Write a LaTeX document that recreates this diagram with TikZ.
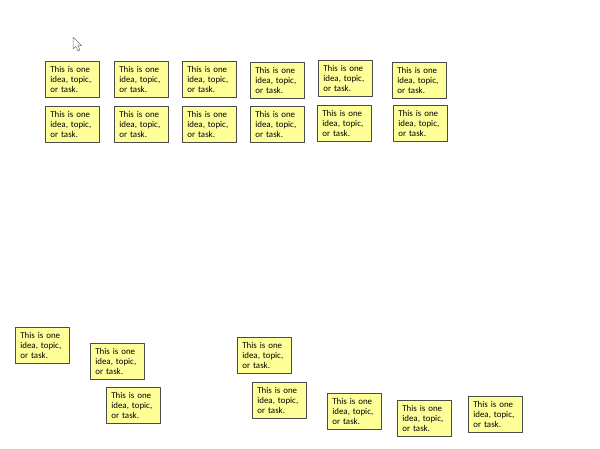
\documentclass[tikz,border=0pt]{standalone}
\usepackage{fontspec}
\setmainfont{Carlito}
\usetikzlibrary{shadows}
\definecolor{notefill}{HTML}{FFFF99}
\definecolor{noteline}{HTML}{4A4A4A}
\newcommand{\idea}{This is one\\idea, topic,\\or task.}
\begin{document}
\begin{tikzpicture}[x=1pt,y=-1pt,
  line cap=round,line join=round,
  every node/.style={font=\fontsize{8.9}{9.8}\selectfont},
  note/.style={draw=noteline,line width=.7pt,fill=notefill,anchor=north west,
    minimum width=54pt,minimum height=36pt,inner xsep=5pt,inner ysep=0pt,
    text width=44pt,align=left,
    drop shadow={shadow xshift=.9pt,shadow yshift=-.9pt,fill=black!45,opacity=.6}},
  ptr/.style={draw=black!55,fill=white,line width=.5pt}]
  \useasboundingbox (0,0) rectangle (600,449);

  %% ---- mouse pointer
  \draw[ptr] (73,37) -- (73,49) -- (75.8,46.4) -- (78,51) -- (80,50) -- (77.8,45.6) -- (81.6,45.6) -- cycle;

  %% ---- grid, row 1
  \node[note] (a1) at (45,61)  {\idea};
  \node[note] (a2) at (114,61) {\idea};
  \node[note] (a3) at (182,61) {\idea};
  \node[note] (a4) at (250,62) {\idea};
  \node[note] (a5) at (318,60) {\idea};
  \node[note] (a6) at (392,62) {\idea};

  %% ---- grid, row 2
  \node[note] (b1) at (45,106)  {\idea};
  \node[note] (b2) at (114,106) {\idea};
  \node[note] (b3) at (182,106) {\idea};
  \node[note] (b4) at (250,106) {\idea};
  \node[note] (b5) at (317,105) {\idea};
  \node[note] (b6) at (393,105) {\idea};

  %% ---- loose notes, left group
  \node[note] (c1) at (15,327)  {\idea};
  \node[note] (c2) at (90,343)  {\idea};
  \node[note] (c3) at (106,387) {\idea};

  %% ---- loose notes, right group
  \node[note] (d1) at (237,337) {\idea};
  \node[note] (d2) at (252,382) {\idea};
  \node[note] (d3) at (327,393) {\idea};
  \node[note] (d4) at (397,400) {\idea};
  \node[note] (d5) at (468,396) {\idea};
\end{tikzpicture}
\end{document}
